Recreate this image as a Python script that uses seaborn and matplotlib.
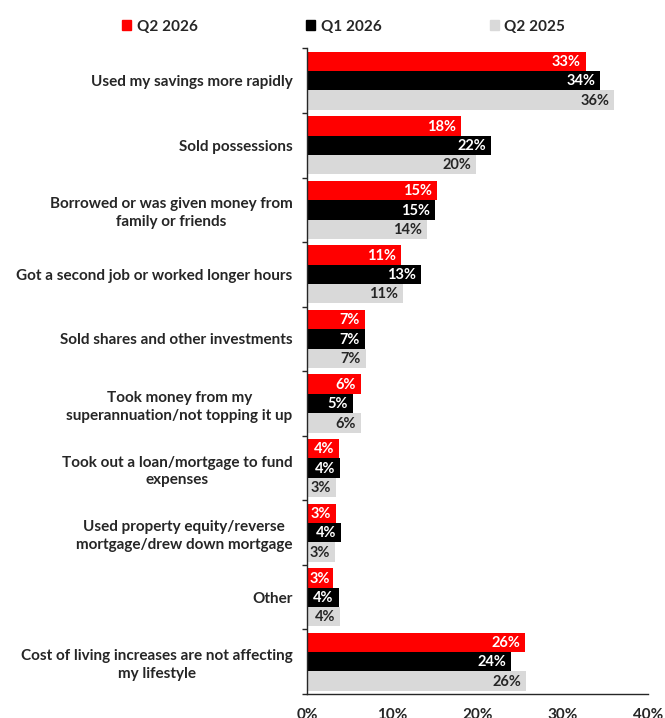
import matplotlib
matplotlib.use("Agg")
import matplotlib.pyplot as plt
import seaborn as sns
import pandas as pd
from matplotlib.ticker import FixedLocator, FuncFormatter

categories = [
    "Used my savings more rapidly",
    "Sold possessions",
    "Borrowed or was given money from\nfamily or friends",
    "Got a second job or worked longer hours",
    "Sold shares and other investments",
    "Took money from my\nsuperannuation/not topping it up",
    "Took out a loan/mortgage to fund\nexpenses",
    "Used property equity/reverse\nmortgage/drew down mortgage",
    "Other",
    "Cost of living increases are not affecting\nmy lifestyle",
]
series = ["Q2 2026", "Q1 2026", "Q2 2025"]
q2_2026 = [32.7, 18.1, 15.2, 11.0, 6.8, 6.3, 3.8, 3.4, 3.1, 25.6]
q1_2026 = [34.4, 21.6, 15.0, 13.4, 6.8, 5.4, 3.9, 4.0, 3.7, 23.9]
q2_2025 = [36.0, 19.8, 14.1, 11.3, 6.9, 6.3, 3.4, 3.3, 3.9, 25.7]
x_ticks = [0, 10, 20, 30, 40]

colors = {"Q2 2026": "#ff0000", "Q1 2026": "#000000", "Q2 2025": "#d9d9d9"}
text_dark = "#262626"
label_colors = {"Q2 2026": "white", "Q1 2026": "white", "Q2 2025": text_dark}

df = pd.DataFrame({
    "category": categories * 3,
    "series": [s for s in series for _ in categories],
    "value": q2_2026 + q1_2026 + q2_2025,
})

sns.set_theme(style="white")
plt.rcParams["font.family"] = ["Lato", "DejaVu Sans"]
plt.rcParams["font.weight"] = "bold"

fig = plt.figure(figsize=(6.65, 7.18), dpi=100)
ax = fig.add_axes([0.4617, 0.0334, 0.5128, 0.8991])

sns.barplot(
    data=df, y="category", x="value", hue="series",
    order=categories, hue_order=series, palette=colors,
    orient="h", width=0.9, saturation=1, linewidth=0,
    errorbar=None, ax=ax, legend=False,
)

# value labels inside the bar ends
for container, s in zip(ax.containers, series):
    for bar, v in zip(container, container.datavalues):
        y = bar.get_y() + bar.get_height() / 2
        ax.annotate(f"{v:.0f}%", xy=(max(v, 3.3), y), xytext=(-3.5, -0.5),
                    textcoords="offset points", ha="right", va="center",
                    fontsize=10.5, fontweight="bold", color=label_colors[s])

ax.set_xlim(0, 40)
ax.set_ylim(len(categories) - 0.5, -0.5)
ax.xaxis.set_major_locator(FixedLocator(x_ticks))
ax.xaxis.set_major_formatter(FuncFormatter(lambda v, p: f"{v:.0f}%"))
ax.set_xlabel("")
ax.set_ylabel("")

for side in ("top", "right"):
    ax.spines[side].set_visible(False)
for side in ("left", "bottom"):
    ax.spines[side].set_color(text_dark)
    ax.spines[side].set_linewidth(1.0)

ax.tick_params(axis="x", which="major", direction="out", length=3, width=1,
               color=text_dark, pad=7, labelsize=11, labelcolor=text_dark)
ax.tick_params(axis="y", which="major", length=0, pad=10.5, labelsize=11,
               labelcolor=text_dark)
ax.yaxis.set_minor_locator(FixedLocator([i - 0.5 for i in range(len(categories) + 1)]))
ax.tick_params(axis="y", which="minor", left=True, direction="out", length=3.5,
               width=1, color=text_dark)
for lbl in ax.get_yticklabels():
    lbl.set_multialignment("center")
    lbl.set_linespacing(1.35)
    lbl.set_fontweight("bold")
for lbl in ax.get_xticklabels():
    lbl.set_fontweight("bold")

handles = [plt.Rectangle((0, 0), 1, 1, color=colors[s]) for s in series]
fig.legend(handles, series, loc="center", bbox_to_anchor=(0.517, 0.963),
           ncol=3, frameon=False, handlelength=0.6, handleheight=0.6,
           handletextpad=0.35, columnspacing=7.1,
           prop={"size": 11, "weight": "bold"}, labelcolor=text_dark)

fig.savefig("out.png", dpi=100)
